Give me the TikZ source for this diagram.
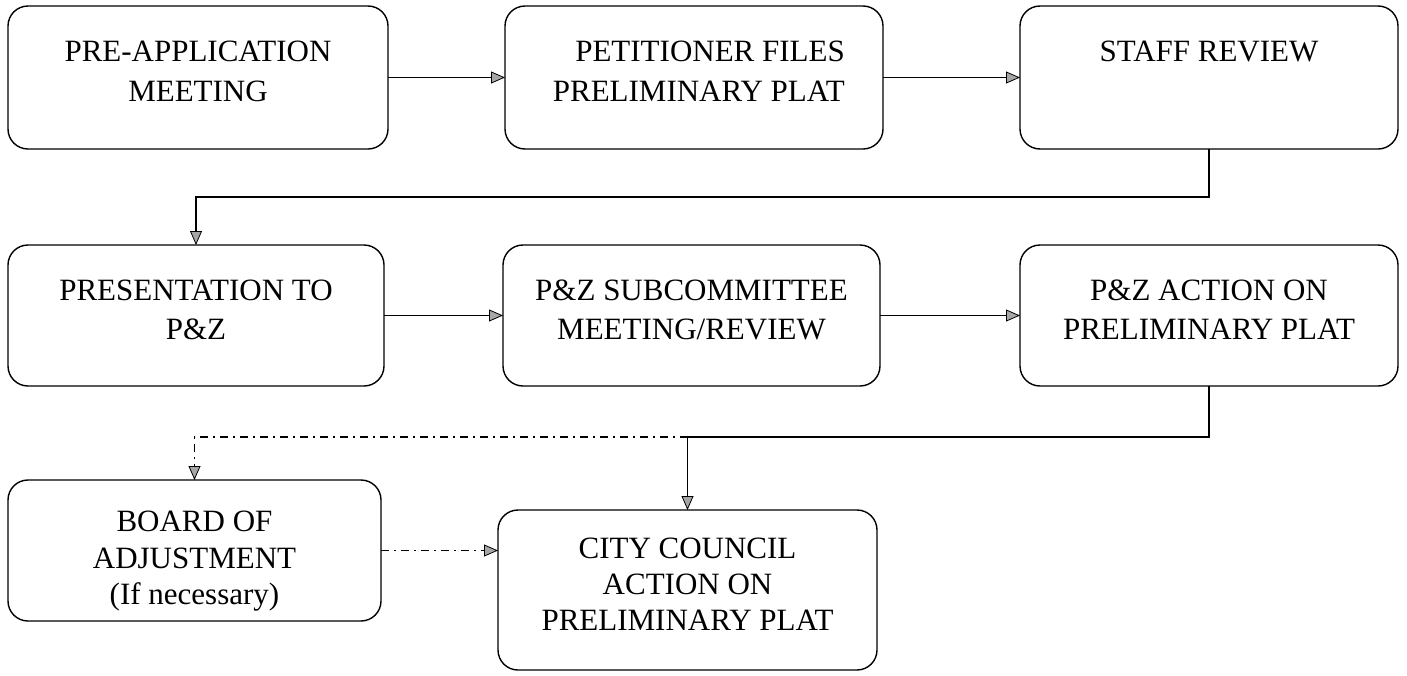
\documentclass[tikz,border=0pt]{standalone}
\usepackage{fontspec}
\setmainfont{Liberation Serif}
\usetikzlibrary{arrows.meta}
\begin{document}
\begin{tikzpicture}[x=1pt,y=-1pt,
  box/.style={draw=black, line width=1.4pt, rounded corners=20pt, inner sep=0pt, outer sep=0pt},
  txt/.style={inner sep=0pt, align=center, anchor=north, font=\fontsize{31}{38}\selectfont},
  flow/.style={draw=black, line width=1.1pt, -{Triangle[length=14pt,width=12pt,fill=gray!70,line width=0.8pt]}},
  dd/.style={flow, dash pattern=on 8pt off 5pt on 2pt off 5pt}]
\useasboundingbox (0,0) rectangle (1407,675);
% boxes
\node[box, minimum width=380pt, minimum height=143pt] (b1) at (198,77.5) {};
\node[box, minimum width=378pt, minimum height=143pt] (b2) at (694,77.5) {};
\node[box, minimum width=378pt, minimum height=143pt] (b3) at (1209,77.5) {};
\node[box, minimum width=376pt, minimum height=141pt] (b4) at (196,315.5) {};
\node[box, minimum width=377pt, minimum height=141pt] (b5) at (691.5,315.5) {};
\node[box, minimum width=378pt, minimum height=141pt] (b6) at (1209,315.5) {};
\node[box, minimum width=373pt, minimum height=141pt] (b7) at (194.5,550.5) {};
\node[box, minimum width=379pt, minimum height=160pt] (b8) at (687.5,590) {};
% texts
\node[txt, font=\fontsize{31}{40}\selectfont] (t1) at ([yshift=-35pt]b1.north) {PRE-APPLICATION\\MEETING};
\node[txt, font=\fontsize{31}{40}\selectfont, align=right, anchor=north east] (t2) at ([yshift=-35pt]845,6) {PETITIONER FILES\\PRELIMINARY PLAT};
\node[txt] (t3) at ([yshift=-35pt]b3.north) {STAFF REVIEW};
\node[txt, font=\fontsize{31}{39}\selectfont] (t4) at ([yshift=-35pt]b4.north) {PRESENTATION TO\\P\&Z};
\node[txt, font=\fontsize{31}{39}\selectfont] (t5) at ([yshift=-35pt]b5.north) {P\&Z SUBCOMMITTEE\\MEETING/REVIEW};
\node[txt, font=\fontsize{31}{39}\selectfont] (t6) at ([yshift=-35pt]b6.north) {P\&Z ACTION ON\\PRELIMINARY PLAT};
\node[txt, font=\fontsize{31}{36.5}\selectfont] (t7) at ([yshift=-31pt]b7.north) {BOARD OF\\ADJUSTMENT\\(If necessary)};
\node[txt, font=\fontsize{31}{36}\selectfont] (t8) at ([yshift=-28pt]b8.north) {CITY COUNCIL\\ACTION ON\\PRELIMINARY PLAT};
% connectors
\draw[flow] (b1.east) -- (b2.west);
\draw[flow] (b2.east) -- (b3.west);
\draw[flow] (b3.south) -- (b3.south |- 0,197) -| (b4.north);
\draw[flow] (b4.east) -- (b5.west);
\draw[flow] (b5.east) -- (b6.west);
\coordinate (j) at (b8.north |- 0,437);
\draw[flow] (b6.south) -- (b6.south |- j) -- (j) -- (b8.north);
\draw[dd] (j) -| (b7.north);
\draw[dd] (b7.east) -- (b7.east -| b8.west);
\end{tikzpicture}
\end{document}
